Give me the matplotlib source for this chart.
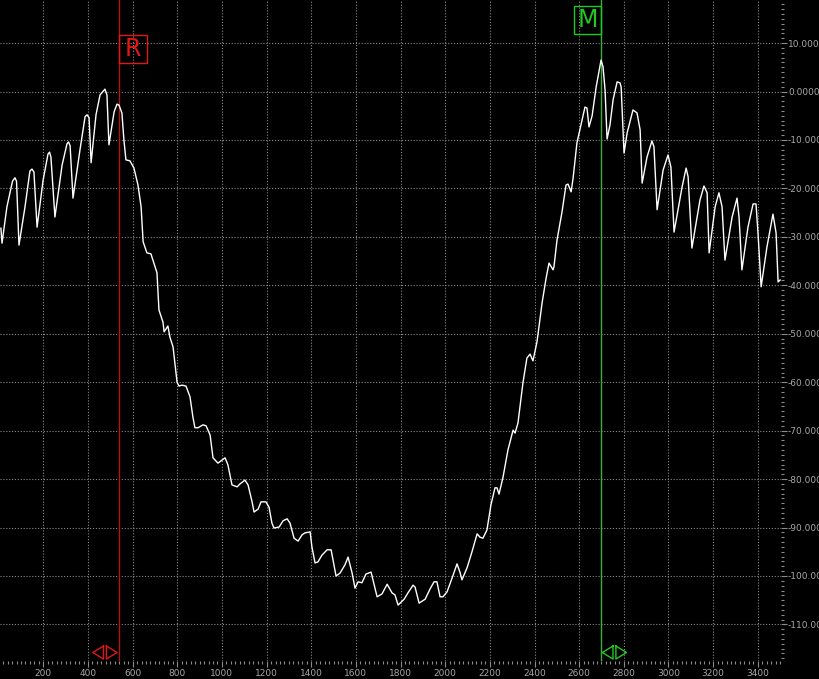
import matplotlib
matplotlib.use("Agg")
import matplotlib.pyplot as plt
from matplotlib.patches import Rectangle
from matplotlib.ticker import MultipleLocator, FuncFormatter

# trace (x in units, level in dB)
freq = [10, 15, 37, 62, 73, 80, 91, 118, 140, 149, 158, 172, 199, 221, 228, 234,
        252, 284, 306, 313, 320, 333, 364, 387, 396, 405, 414, 436, 454, 476, 485,
        494, 517, 530, 539, 552, 561, 570, 588, 606, 624, 638, 647, 664, 682, 691,
        709, 718, 736, 741, 758, 767, 781, 799, 808, 821, 839, 857, 870, 879, 893,
        915, 929, 947, 960, 982, 1000, 1014, 1027, 1045, 1068, 1081, 1103, 1117,
        1135, 1144, 1162, 1175, 1197, 1211, 1224, 1233, 1256, 1274, 1292, 1305,
        1323, 1341, 1359, 1372, 1395, 1403, 1417, 1430, 1448, 1471, 1489, 1511,
        1529, 1551, 1565, 1583, 1596, 1610, 1627, 1645, 1668, 1695, 1717, 1740,
        1762, 1775, 1789, 1816, 1833, 1856, 1865, 1883, 1910, 1932, 1950, 1963,
        1977, 1990, 2008, 2031, 2053, 2066, 2075, 2098, 2120, 2143, 2156, 2169,
        2187, 2205, 2223, 2232, 2241, 2259, 2281, 2304, 2313, 2326, 2348, 2366,
        2380, 2393, 2411, 2434, 2452, 2465, 2483, 2487, 2501, 2523, 2541, 2550,
        2564, 2573, 2590, 2608, 2626, 2635, 2644, 2658, 2676, 2698, 2707, 2716,
        2725, 2738, 2752, 2770, 2783, 2788, 2801, 2815, 2841, 2859, 2873, 2882,
        2904, 2926, 2935, 2949, 2976, 2998, 3011, 3025, 3061, 3079, 3088, 3105,
        3141, 3159, 3173, 3182, 3209, 3226, 3240, 3253, 3285, 3307, 3316, 3329,
        3356, 3379, 3392, 3401, 3415, 3441, 3468, 3482, 3491, 3500]
level = [-28.2, -31.3, -23.8, -18.5, -17.8, -18.5, -31.7, -23.8, -16.4, -16.0,
         -16.6, -28.0, -18.3, -12.9, -12.5, -13.5, -25.9, -15.2, -10.8, -10.4,
         -11.2, -22.0, -12.1, -5.2, -4.8, -5.4, -14.7, -4.8, -0.7, 0.5, -0.7,
         -11.0, -4.2, -2.6, -2.8, -4.4, -10.0, -14.1, -14.3, -15.8, -19.3, -23.8,
         -31.0, -33.3, -33.5, -34.8, -37.4, -45.1, -47.6, -49.6, -48.4, -50.7,
         -52.7, -60.0, -60.8, -60.6, -60.8, -63.0, -67.2, -69.4, -69.4, -68.8,
         -69.0, -70.9, -75.6, -76.7, -76.1, -75.6, -77.1, -81.2, -81.6, -81.0,
         -80.2, -81.2, -84.7, -86.8, -86.2, -84.7, -84.7, -85.8, -89.1, -90.1,
         -89.9, -88.6, -88.2, -89.1, -92.2, -92.8, -91.5, -91.1, -90.9, -94.0,
         -97.3, -97.1, -95.7, -94.6, -94.6, -100.0, -99.4, -97.7, -96.1, -99.4,
         -102.5, -101.2, -101.4, -99.6, -99.2, -104.3, -103.7, -101.7, -103.5,
         -103.9, -106.0, -104.8, -103.5, -101.9, -102.3, -105.6, -104.8, -102.7,
         -101.2, -101.2, -104.3, -104.3, -103.3, -100.4, -97.5, -99.2, -100.8,
         -98.3, -95.0, -91.3, -92.0, -92.2, -90.5, -85.3, -81.8, -81.8, -83.1,
         -79.6, -74.0, -69.9, -70.5, -68.4, -60.2, -55.0, -54.2, -55.6, -51.7,
         -43.6, -38.5, -35.4, -36.8, -36.2, -30.6, -24.9, -19.3, -19.1, -20.7,
         -17.8, -10.6, -6.9, -3.2, -3.4, -7.3, -5.0, 0.9, 6.5, 5.1, 0.3, -9.8,
         -6.9, -1.7, 2.0, 1.8, 0.9, -12.7, -8.5, -3.8, -4.4, -7.9, -18.9, -13.5,
         -10.2, -11.4, -24.4, -16.2, -13.1, -15.6, -29.0, -19.7, -15.8, -17.6,
         -32.3, -22.4, -19.5, -20.9, -33.3, -23.8, -20.9, -23.8, -34.8, -25.9,
         -22.0, -25.9, -36.8, -28.0, -23.2, -23.2, -29.2, -40.3, -32.1, -25.3,
         -29.2, -39.3, -38.9]

ref_marker = 540    # R
main_marker = 2700  # M

BG = "black"
GRID = "#8c8c8c"
LABEL = "#a8a8a8"
RED = "#e01818"
RED_LINE = "#b01414"
GREEN = "#22c822"
GREEN_LINE = "#38b038"


def fmt_level(v, _pos):
    a = abs(v)
    if a >= 100:
        dec = 2
    elif a >= 10:
        dec = 3
    else:
        dec = 4
    return f"{v:.{dec}f}"


def eye_marker(ax, xc, yc, color, hw=54, hh=1.35):
    # ◁|▷ style marker sitting on the bottom edge
    gap = hw * 0.12
    ax.plot([xc - gap, xc - hw, xc - gap, xc - gap],
            [yc + hh, yc, yc - hh, yc + hh], color=color, lw=1.0, clip_on=False)
    ax.plot([xc + gap, xc + hw, xc + gap, xc + gap],
            [yc + hh, yc, yc - hh, yc + hh], color=color, lw=1.0, clip_on=False)


fig = plt.figure(figsize=(8.19, 6.79), dpi=100, facecolor=BG)
ax = fig.add_axes([0.0, 18 / 679, 781 / 819, 661 / 679], facecolor=BG)

ax.set_xlim(6, 3504)
ax.set_ylim(-117.55, 18.9)

ax.xaxis.set_major_locator(MultipleLocator(200))
ax.xaxis.set_minor_locator(MultipleLocator(20))
ax.yaxis.set_major_locator(MultipleLocator(10))
ax.yaxis.set_minor_locator(MultipleLocator(1))
ax.yaxis.set_major_formatter(FuncFormatter(fmt_level))
ax.yaxis.tick_right()

ax.grid(True, which="major", color=GRID, lw=0.8, linestyle=(0, (1, 1.6)))
for s in ax.spines.values():
    s.set_visible(False)
ax.tick_params(which="both", colors=GRID, labelcolor=LABEL, labelsize=6.5,
               direction="out", width=0.8)
ax.tick_params(which="major", length=4)
ax.tick_params(which="minor", length=2.5)
ax.tick_params(axis="y", pad=1)
ax.tick_params(axis="x", pad=2)

ax.plot(freq, level, color="white", lw=1.0, zorder=5)

# markers
ax.axvline(ref_marker, color=RED_LINE, lw=1.0, zorder=4)
ax.axvline(main_marker, color=GREEN_LINE, lw=1.0, zorder=4)

ax.add_patch(Rectangle((ref_marker, 5.9), 124, 5.8, fill=False, ec=RED, lw=1.0, zorder=6))
ax.text(ref_marker + 62, 8.7, "R", color=RED, fontsize=17, family="DejaVu Sans",
        fontweight="normal", ha="center", va="center", zorder=6)
ax.add_patch(Rectangle((main_marker - 121, 11.9), 121, 5.8, fill=False, ec=GREEN, lw=1.0, zorder=6))
ax.text(main_marker - 60.5, 14.7, "M", color=GREEN, fontsize=17, family="DejaVu Sans",
        fontweight="normal", ha="center", va="center", zorder=6)

eye_marker(ax, ref_marker - 64, -115.8, RED)
eye_marker(ax, main_marker + 58, -115.8, GREEN)

fig.savefig("out.png", dpi=100, facecolor=BG)
